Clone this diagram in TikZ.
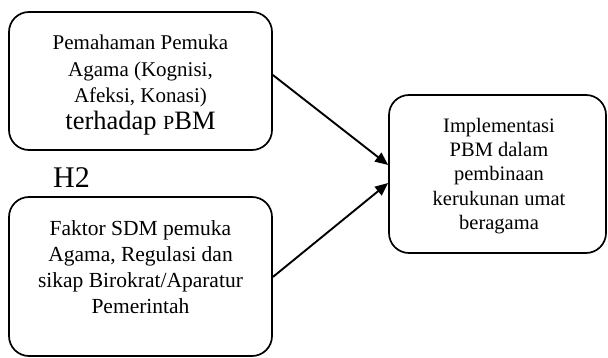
\documentclass[tikz,border=0pt]{standalone}
\usepackage{fontspec}
\setmainfont{Liberation Serif}
\usetikzlibrary{arrows.meta}
\begin{document}
\begin{tikzpicture}[x=1pt,y=-1pt,
  box/.style={draw, line width=1.7pt, rounded corners=20pt, inner sep=0pt},
  boxtext/.style={align=center, inner sep=0pt, font=\fontsize{21}{26.7}\selectfont},
  conn/.style={line width=1.9pt, -{Triangle[length=13pt,width=11pt]}}]
\useasboundingbox (0,0) rectangle (608,358);
\node[box, minimum width=263pt, minimum height=138pt] (b1) at (140.5,81) {};
\node[boxtext] (t1) at (140.5,85) {Pemahaman Pemuka\\ Agama (Kognisi,\\ Afeksi, Konasi)\\
  {\fontsize{26.5}{26.7}\selectfont terhadap {\fontsize{20}{20}\selectfont P}BM}};
\node[box, minimum width=263pt, minimum height=159pt] (b2) at (140.5,276.5) {};
\node[boxtext, font=\fontsize{21.5}{26}\selectfont] (t2) at (140.5,267) {Faktor SDM pemuka\\ Agama, Regulasi dan\\ sikap Birokrat/Aparatur\\ Pemerintah};
\node[box, minimum width=217pt, minimum height=158pt] (b3) at (497.5,174) {};
\node[boxtext, font=\fontsize{20.5}{24.3}\selectfont] (t3) at (499,176) {Implementasi\\ PBM dalam\\ pembinaan\\ kerukunan umat\\ beragama};
\node[inner sep=0pt, font=\fontsize{30}{32}\selectfont] (h2) at (71.5,178) {H2};
\draw[conn] ([yshift=6pt]b1.east) -- ([yshift=9pt]b3.west);
\draw[conn] ([yshift=-0.5pt]b2.east) -- ([yshift=-9pt]b3.west);
\end{tikzpicture}
\end{document}
